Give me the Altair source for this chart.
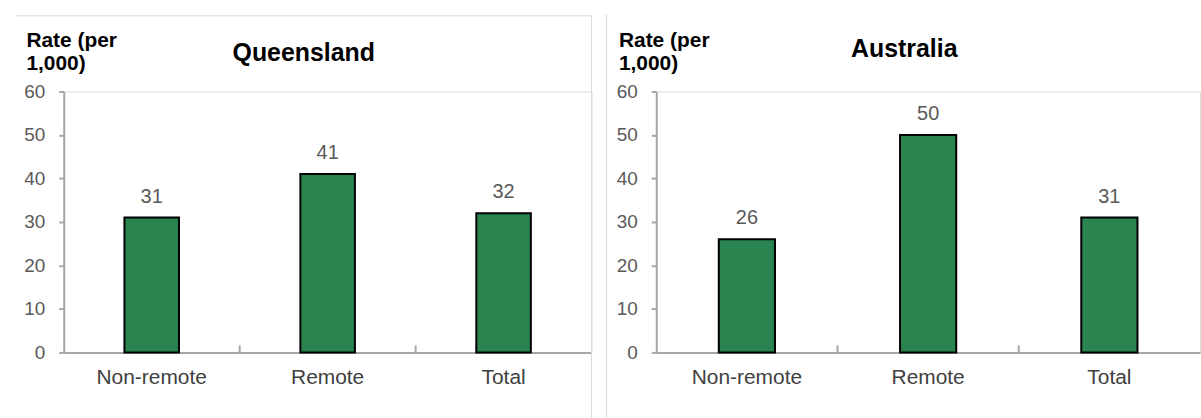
import altair as alt
import pandas as pd

# Hospitalisation rate per 1,000, by remoteness
categories = ["Non-remote", "Remote", "Total"]
qld_rates = [31, 41, 32]
aus_rates = [26, 50, 31]
y_ticks = [0, 10, 20, 30, 40, 50, 60]

GREEN = "#2a8450"
AXIS_GREY = "#a6a6a6"
BORDER_GREY = "#d9d9d9"
LABEL_GREY = "#595959"
FONT = "Liberation Sans"
PLOT_H = 262
PAD_INNER = 0.69
PAD_OUTER = PAD_INNER / 2


def panel(name, rates, width, title_x, title_y, borders):
    df = pd.DataFrame({"category": categories, "rate": rates})
    x_scale = alt.Scale(domain=categories, paddingInner=PAD_INNER, paddingOuter=PAD_OUTER)
    y_scale = alt.Scale(domain=[0, 60], nice=False)
    y_axis = alt.Axis(
        values=y_ticks, grid=False,
        domainColor=AXIS_GREY, domainWidth=2,
        tickColor=AXIS_GREY, tickWidth=2, tickSize=5,
        labelFont=FONT, labelFontSize=19, labelColor=LABEL_GREY,
        labelPadding=14, labelFlush=False,
        title=["Rate (per", "1,000)"], titleAngle=0, titleAlign="left",
        titleBaseline="alphabetic", titleX=-38, titleY=-45,
        titleFont=FONT, titleFontSize=21, titleFontWeight="bold",
        titleColor="black", titleLineHeight=23,
    )
    x_axis = alt.Axis(
        orient="bottom", ticks=False, tickSize=0, grid=False,
        domainColor=AXIS_GREY, domainWidth=2,
        labelFont=FONT, labelFontSize=21, labelColor="#404040",
        labelAngle=0, labelPadding=31, labelBaseline="alphabetic",
        title=None,
    )
    x_enc = alt.X("category:N", scale=x_scale, sort=categories, axis=x_axis)
    y_enc = alt.Y("rate:Q", scale=y_scale, axis=y_axis)

    base = alt.Chart(df)
    bars = base.mark_bar(color=GREEN, stroke="black", strokeWidth=2).encode(
        x=x_enc, y=y_enc
    )
    values = base.mark_text(
        dy=-15, baseline="alphabetic", fontSize=20, color=LABEL_GREY, font=FONT
    ).encode(x=x_enc, y=y_enc, text=alt.Text("rate:Q", format="d"))

    # short inward ticks on the baseline, halfway between neighbouring categories
    step = width / len(categories)
    separators = base.transform_filter(
        alt.datum.category != categories[0]
    ).mark_rule(
        color=AXIS_GREY, strokeWidth=2, xOffset=-PAD_INNER * step / 2
    ).encode(
        x=alt.X("category:N", scale=x_scale, sort=categories, axis=x_axis,
                bandPosition=0),
        y=alt.value(PLOT_H - 7),
        y2=alt.value(PLOT_H),
    )

    heading = alt.Chart(pd.DataFrame({"region": [name]})).mark_text(
        fontSize=25, fontWeight="bold", font=FONT, color="black",
        align="center", baseline="alphabetic",
    ).encode(x=alt.value(title_x), y=alt.value(title_y), text="region:N")

    frame = alt.Chart(pd.DataFrame({"edge": [name]}))
    edges = [
        frame.mark_rule(color=BORDER_GREY, strokeWidth=1).encode(**b)
        for b in borders
    ]

    return alt.layer(*edges, separators, bars, values, heading).properties(
        width=width, height=PLOT_H
    )


left = panel(
    "Queensland", qld_rates, 530, 241, -30.7,
    [
        dict(x=alt.value(-48), x2=alt.value(530), y=alt.value(-76)),
        dict(x=alt.value(530), y=alt.value(-76), y2=alt.value(328)),
    ],
)
right = panel(
    "Australia", aus_rates, 546, 249, -35,
    [
        dict(x=alt.value(-50), y=alt.value(-78), y2=alt.value(328)),
    ],
)

chart = (
    alt.hconcat(left, right, spacing=13)
    .properties(padding={"left": 15, "top": 12, "right": 0, "bottom": 0})
    .configure_view(stroke="transparent")
    .configure(background="white")
)

chart.save("out.html", embed_options={"renderer": "svg", "actions": False})
